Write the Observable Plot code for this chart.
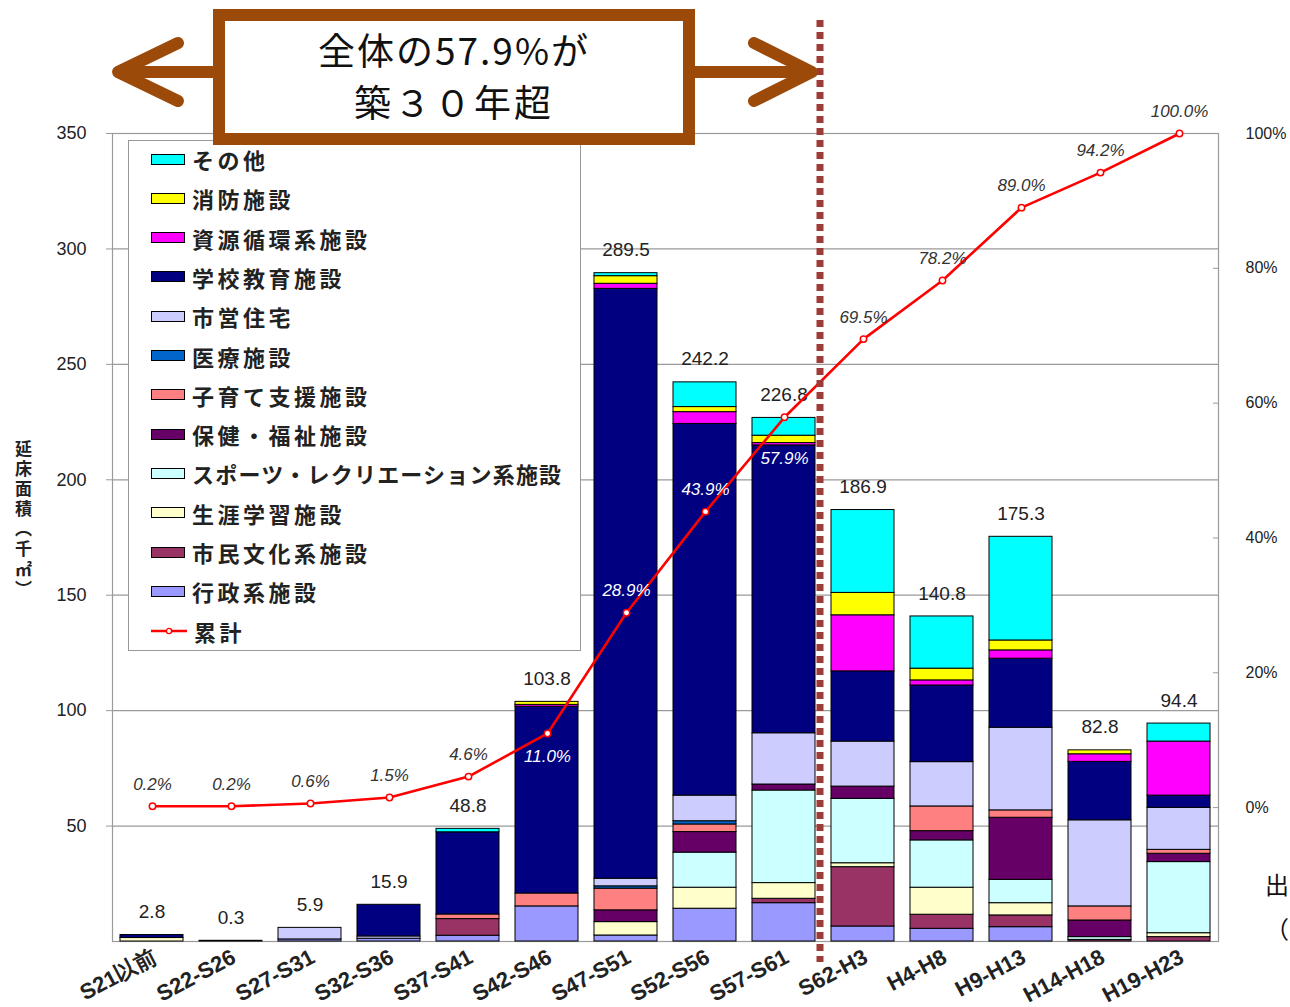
<!DOCTYPE html>
<html><head><meta charset="utf-8">
<script src="https://cdn.jsdelivr.net/npm/d3@7"></script>
<script src="https://cdn.jsdelivr.net/npm/@observablehq/plot@0.6"></script>
<style>
html,body{margin:0;padding:0;}
body{width:1290px;height:1007px;overflow:hidden;background:#fff;position:relative;font-family:"Liberation Sans",Arial,sans-serif;}
#wrap{position:absolute;left:0;top:0;width:1290px;height:1007px;}
#wrap > svg, #wrap > div{position:absolute;}
.legend{left:128px;top:140px;width:451px;height:509px;border:1.5px solid #999;background:#fff;box-sizing:content-box;}
.li{position:absolute;left:22px;height:30px;display:flex;align-items:center;font-family:"Noto Sans CJK JP",sans-serif;font-weight:bold;font-size:22px;color:#222;letter-spacing:3.5px;white-space:nowrap;}
.sw{width:32px;height:9px;border:1px solid #000;margin-right:7px;flex:none;}
.ytitle{left:11px;top:440px;writing-mode:vertical-rl;font-family:"Noto Sans CJK JP",sans-serif;font-weight:bold;font-size:17px;color:#222;letter-spacing:3px;}
.src{left:1265px;top:862px;font-family:"Noto Sans CJK JP",sans-serif;font-size:24px;line-height:44px;color:#111;white-space:nowrap;}
</style></head><body><div id="wrap"></div><script>
// ---- data ----
const periods = ["S21以前","S22-S26","S27-S31","S32-S36","S37-S41","S42-S46","S47-S51","S52-S56","S57-S61","S62-H3","H4-H8","H9-H13","H14-H18","H19-H23"];
const categories = ["行政系施設","市民文化系施設","生涯学習施設","スポーツ・レクリエーション系施設","保健・福祉施設","子育て支援施設","医療施設","市営住宅","学校教育施設","資源循環系施設","消防施設","その他"];
const gyosei   = [0,0,0.9,1.2,2.5,15.2,2.6,14.2,16.6,6.5,5.5,6.2,0,0];
const bunka    = [0,0,0,0,7.2,0,0,0,1.9,25.7,6.1,5.1,0.7,1.9];
const shogai   = [1.5,0,0,0,0,0,5.8,9.1,6.8,1.7,11.7,5.3,0,1.7];
const sports   = [0,0,0,0,0,0,0,15.2,40.1,27.9,20.5,10.1,1.2,30.8];
const hoken    = [0,0,0,0,0,0,5.1,8.9,2.6,5.3,4.0,26.9,7.2,3.6];
const kosodate = [0,0,0,0,2.0,5.6,9.4,3.3,0,0,10.7,3.2,6.1,1.7];
const iryo     = [0,0,0,0,0,0,1.0,1.4,0,0,0,0,0,0];
const jutaku   = [0,0,5.0,1.0,0,0,3.3,11.1,22.2,19.5,19.2,35.8,37.3,18.2];
const gakko    = [1.3,0.3,0,13.7,35.6,80.9,255.5,161.0,124.7,30.4,33.2,29.9,25.3,5.3];
const shigen   = [0,0,0,0,0,0.8,2.2,5.1,1.0,24.3,2.2,3.6,3.3,23.4];
const shobo    = [0,0,0,0,0,1.3,3.3,2.2,3.2,9.7,5.1,4.3,1.7,0];
const sonota   = [0,0,0,0,1.5,0,1.3,10.7,7.7,35.9,22.6,44.9,0,7.8];
const totals   = [2.8,0.3,5.9,15.9,48.8,103.8,289.5,242.2,226.8,186.9,140.8,175.3,82.8,94.4];
const cumulative = [0.2,0.2,0.6,1.5,4.6,11.0,28.9,43.9,57.9,69.5,78.2,89.0,94.2,100.0];
const leftTicks = [50,100,150,200,250,300,350];
const rightTicks = [0,20,40,60,80,100];
const colors = ["#9999FF","#993366","#FFFFCC","#CCFFFF","#660066","#FF8080","#0066CC","#CCCCFF","#000080","#FF00FF","#FFFF00","#00FFFF"];
const lineLabel = "累計";
const calloutLines = ["全体の57.9%が","築３０年超"];

// ---- build ----
const seriesValues = [gyosei,bunka,shogai,sports,hoken,kosodate,iryo,jutaku,gakko,shigen,shobo,sonota];
const rows = [];
categories.forEach((c,i)=>seriesValues[i].forEach((v,j)=>{ if(v>0) rows.push({period:periods[j],cat:c,v}); }));
const totalRows = periods.map((p,i)=>({period:p,total:totals[i]}));
const cumRows = periods.map((p,i)=>({period:p,pct:cumulative[i],i}));

const W=1290,H=1007;
const common = {width:W,height:H,marginTop:133,marginRight:72,marginBottom:66,marginLeft:112};
const xOpt = {domain:periods,paddingInner:0.2,paddingOuter:0.1};
const wrap = document.getElementById("wrap");

const p1 = Plot.plot({
  ...common,
  style:{background:"transparent",fontFamily:"'Liberation Sans',Arial,sans-serif",color:"#222"},
  x:{...xOpt,label:null},
  y:{domain:[0,350],label:null},
  color:{domain:categories,range:colors},
  marks:[
    Plot.gridY(leftTicks,{stroke:"#9a9a9a",strokeOpacity:1,strokeWidth:1.2}),
    Plot.frame({stroke:"#9a9a9a",strokeWidth:1.2}),
    Plot.barY(rows,{x:"period",y:"v",fill:"cat",stroke:"#000",strokeWidth:1}),
    Plot.text(totalRows,{x:"period",y:"total",text:d=>d.total.toFixed(1),dy:-23,fontSize:19,fill:"#222",letterSpacing:"0.5px"}),
    Plot.axisY(leftTicks,{tickSize:6,tickPadding:20,fontSize:18,stroke:"#9a9a9a",fill:"#222",label:null}),
    Plot.axisX({tickRotate:-28,tickSize:0,tickPadding:14,fontSize:22,fontWeight:"bold",fill:"#222",label:null,dx:3,letterSpacing:"0.3px"})
  ]
});
p1.style.left="0px";p1.style.top="0px";
wrap.appendChild(p1);

// percentage scale (right axis) mapped so that 0% and 100% line up with the original chart
const xs = p1.scale("x");
const pctDomain = [-58/2.92, 100];
const whiteIdx = new Set([5,6,7,8]);
const offs = i => i===5 ? 23 : i===8 ? 41 : -22;

const p2 = Plot.plot({
  ...common,
  style:{background:"transparent",fontFamily:"'Liberation Sans',Arial,sans-serif",color:"#222"},
  x:{...xOpt,axis:null},
  y:{domain:pctDomain,axis:null},
  marks:[
    Plot.line(cumRows,{x:"period",y:"pct",stroke:"#FF0000",strokeWidth:2.6}),
    Plot.dot(cumRows,{x:"period",y:"pct",r:3.2,stroke:"#FF0000",fill:"#fff",strokeWidth:1.5}),
    Plot.text(cumRows,{x:"period",y:"pct",text:d=>d.pct.toFixed(1)+"%",fontSize:17,fontStyle:"italic",
      fill:d=>whiteIdx.has(d.i)?"#ffffff":"#333",
      render:(index,scales,values,dims,ctx,next)=>{const g=next(index,scales,values,dims,ctx);
        d3.select(g).selectAll("text").attr("dy",(_,k)=>offs(index[k])+"px");return g;}}),
    Plot.axisY(rightTicks,{anchor:"right",tickSize:0,tickPadding:27,textAnchor:"start",fontSize:16,fill:"#222",tickFormat:d=>d+"%",label:null}),
    Plot.axisY(rightTicks,{anchor:"right",tickSize:6,dx:-6,stroke:"#9a9a9a",tickFormat:()=>"",label:null})
  ]
});
p2.style.left="0px";p2.style.top="0px";
wrap.appendChild(p2);

// ---- overlays: legend, y title, callout, dashed divider ----
const leg = document.createElement("div");
leg.className="legend";
categories.slice().reverse().forEach((c,k)=>{
  const it=document.createElement("div");it.className="li";it.style.top=(3+39.3*k)+"px";
  if(c.length>10) it.style.letterSpacing="1.2px";
  const sw=document.createElement("div");sw.className="sw";sw.style.background=colors[categories.indexOf(c)];
  it.appendChild(sw);it.appendChild(document.createTextNode(c));leg.appendChild(it);
});
{
  const it=document.createElement("div");it.className="li";it.style.top=(3+39.3*12)+"px";
  const s=d3.create("svg").attr("width",40).attr("height",12).style("margin-right","3px");
  s.append("line").attr("x1",0).attr("x2",36).attr("y1",6).attr("y2",6).attr("stroke","#FF0000").attr("stroke-width",2.5);
  s.append("circle").attr("cx",18).attr("cy",6).attr("r",2.6).attr("fill","#fff").attr("stroke","#FF0000").attr("stroke-width",1.3);
  it.appendChild(s.node());it.appendChild(document.createTextNode(lineLabel));leg.appendChild(it);
}
wrap.appendChild(leg);

const yt=document.createElement("div");yt.className="ytitle";yt.textContent="延床面積（千㎡）";wrap.appendChild(yt);
const src=document.createElement("div");src.className="src";src.innerHTML="出<br>（";wrap.appendChild(src);

const step = xs.step, bw = xs.bandwidth;
const divX = xs.apply("S62-H3") - (step-bw)/2 - 3;
const leftX = xs.range[0];
const brown="#9C4A0A";
const ov = d3.create("svg").attr("width",W).attr("height",H).style("left","0px").style("top","0px");
ov.append("line").attr("x1",divX).attr("x2",divX).attr("y1",20).attr("y2",962)
  .attr("stroke","#A03A36").attr("stroke-width",7).attr("stroke-dasharray","7,5");
const ay=72;
ov.append("path").attr("d",`M219,${ay}H${leftX+8}M${leftX+66},${ay-29}L${leftX+6},${ay}L${leftX+66},${ay+29}`)
  .attr("fill","none").attr("stroke",brown).attr("stroke-width",12).attr("stroke-linecap","round").attr("stroke-linejoin","round");
ov.append("path").attr("d",`M690,${ay}H${divX-10}M${divX-66},${ay-29}L${divX-8},${ay}L${divX-66},${ay+29}`)
  .attr("fill","none").attr("stroke",brown).attr("stroke-width",12).attr("stroke-linecap","round").attr("stroke-linejoin","round");
ov.append("rect").attr("x",219).attr("y",15).attr("width",470).attr("height",124)
  .attr("fill","#fff").attr("stroke",brown).attr("stroke-width",12);
ov.append("text").attr("x",454).attr("y",65).attr("text-anchor","middle").attr("font-size",37)
  .attr("font-family","'Noto Sans CJK JP',sans-serif").attr("letter-spacing","2px").attr("fill","#111").text(calloutLines[0]);
ov.append("text").attr("x",454).attr("y",117).attr("text-anchor","middle").attr("font-size",37)
  .attr("font-family","'Noto Sans CJK JP',sans-serif").attr("letter-spacing","3px").attr("fill","#111").text(calloutLines[1]);
wrap.appendChild(ov.node());
</script></body></html>
